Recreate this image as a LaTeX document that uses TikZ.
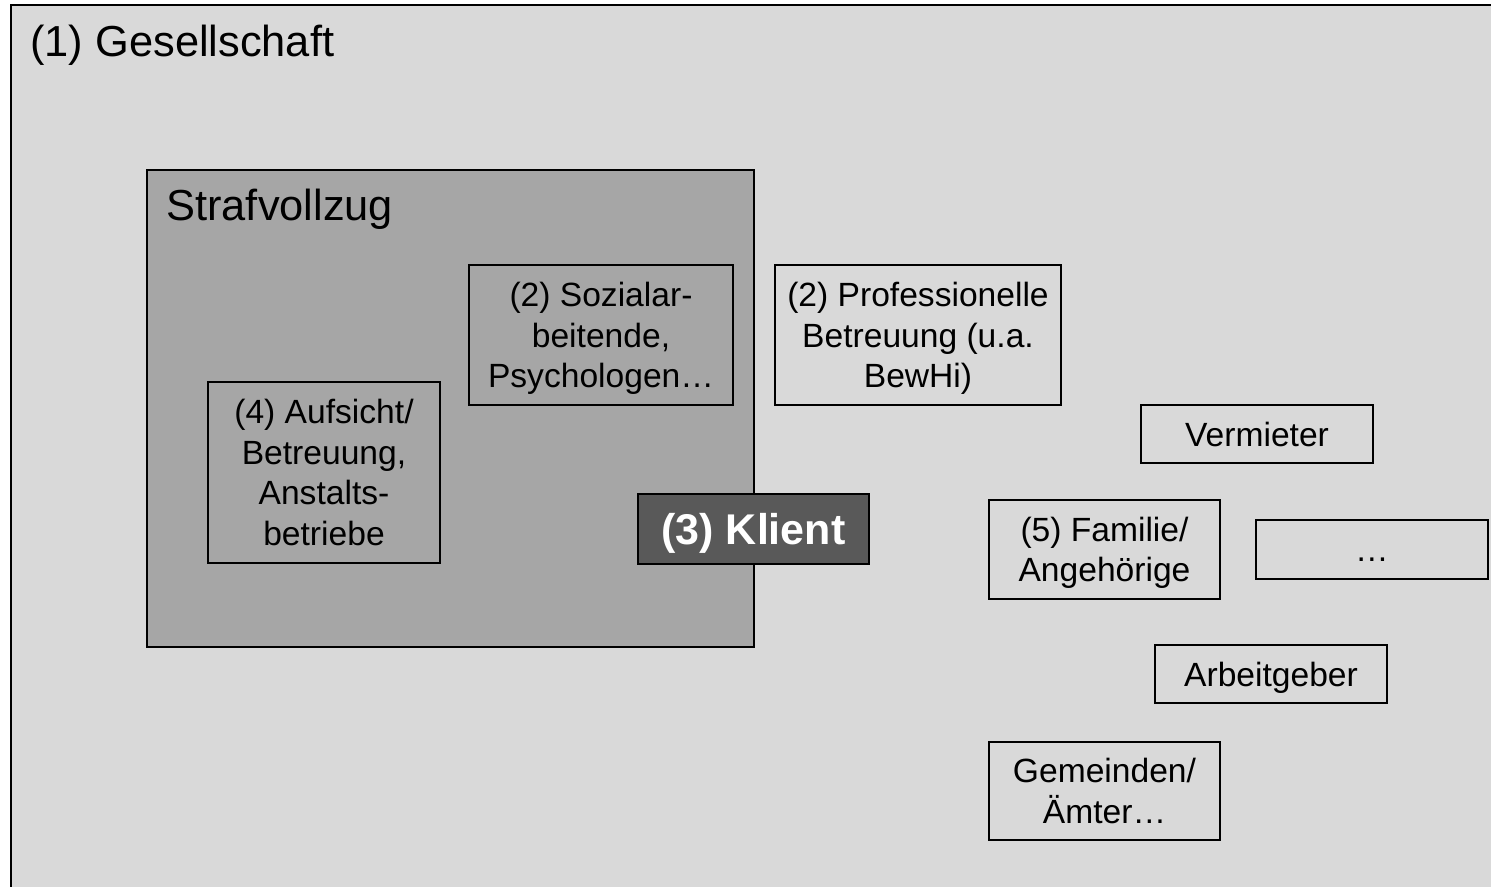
\documentclass[tikz,border=0pt]{standalone}
\usepackage{fontspec}
\setmainfont{Liberation Sans}
\usetikzlibrary{positioning}

\definecolor{gesgray}{HTML}{D9D9D9}
\definecolor{strafgray}{HTML}{A6A6A6}
\definecolor{klientgray}{HTML}{595959}

\newcommand{\bodyfont}{\fontsize{16.8}{20.25}\selectfont}
\newcommand{\bigfont}{\fontsize{21.7}{25}\selectfont}

\tikzset{
  box/.style={draw, line width=1pt, inner sep=0pt, outer sep=0pt, align=center,
    text depth=0pt, font=\bodyfont},
  title/.style={anchor=base west, inner sep=0pt, font=\bigfont},
}

\begin{document}
\begin{tikzpicture}[x=0.5pt, y=-0.5pt]
    \useasboundingbox (0,0) rectangle (1491,887);

    % society frame
    \begin{scope}
    \path[clip] (0,0) rectangle (1491,887);
    \draw[line width=1.4pt, fill=gesgray] (11,5) rectangle (1540,940);
    \end{scope}
    \node[title] (ges) at (30,57) {(1) Gesellschaft};

    % prison
    \node[box, fill=strafgray, minimum width=303.5pt, minimum height=238.5pt] (straf) at (450.5,408.5) {};
    \node[title] (straflab) at (166,221) {Strafvollzug};

    \node[box, minimum width=132pt, minimum height=70pt] (sozial) at (601,335) {(2) Sozialar-\\beitende,\\Psychologen\ldots};
    \node[box, minimum width=116pt, minimum height=90.5pt] (aufsicht) at (324,472.5) {(4) Aufsicht/\\Betreuung,\\Anstalts-\\betriebe};

    % client
    \node[box, fill=klientgray, text=white, font=\fontsize{21.5}{25}\selectfont\bfseries,
      minimum width=115.5pt, minimum height=35pt] (klient) at (753.5,529) {(3) Klient};

    % outside the prison
    \node[box, minimum width=143pt, minimum height=70pt] (prof) at (918,335) {(2) Professionelle\\Betreuung (u.a.\\BewHi)};
    \node[box, minimum width=116pt, minimum height=29pt] (vermieter) at (1257,434) {Vermieter};
    \node[box, minimum width=115.5pt, minimum height=49.5pt] (familie) at (1104.5,549.5) {(5) Familie/\\Angehörige};
    \node[box, minimum width=116pt, minimum height=29.5pt] (weitere) at (1372,549.5) {\vphantom{A}\ldots};
    \node[box, minimum width=116pt, minimum height=29pt] (arbeit) at (1271,674) {Arbeitgeber};
    \node[box, minimum width=115.5pt, minimum height=49pt] (gemeinden) at (1104.5,791) {Gemeinden/\\Ämter\ldots};

\end{tikzpicture}
\end{document}
